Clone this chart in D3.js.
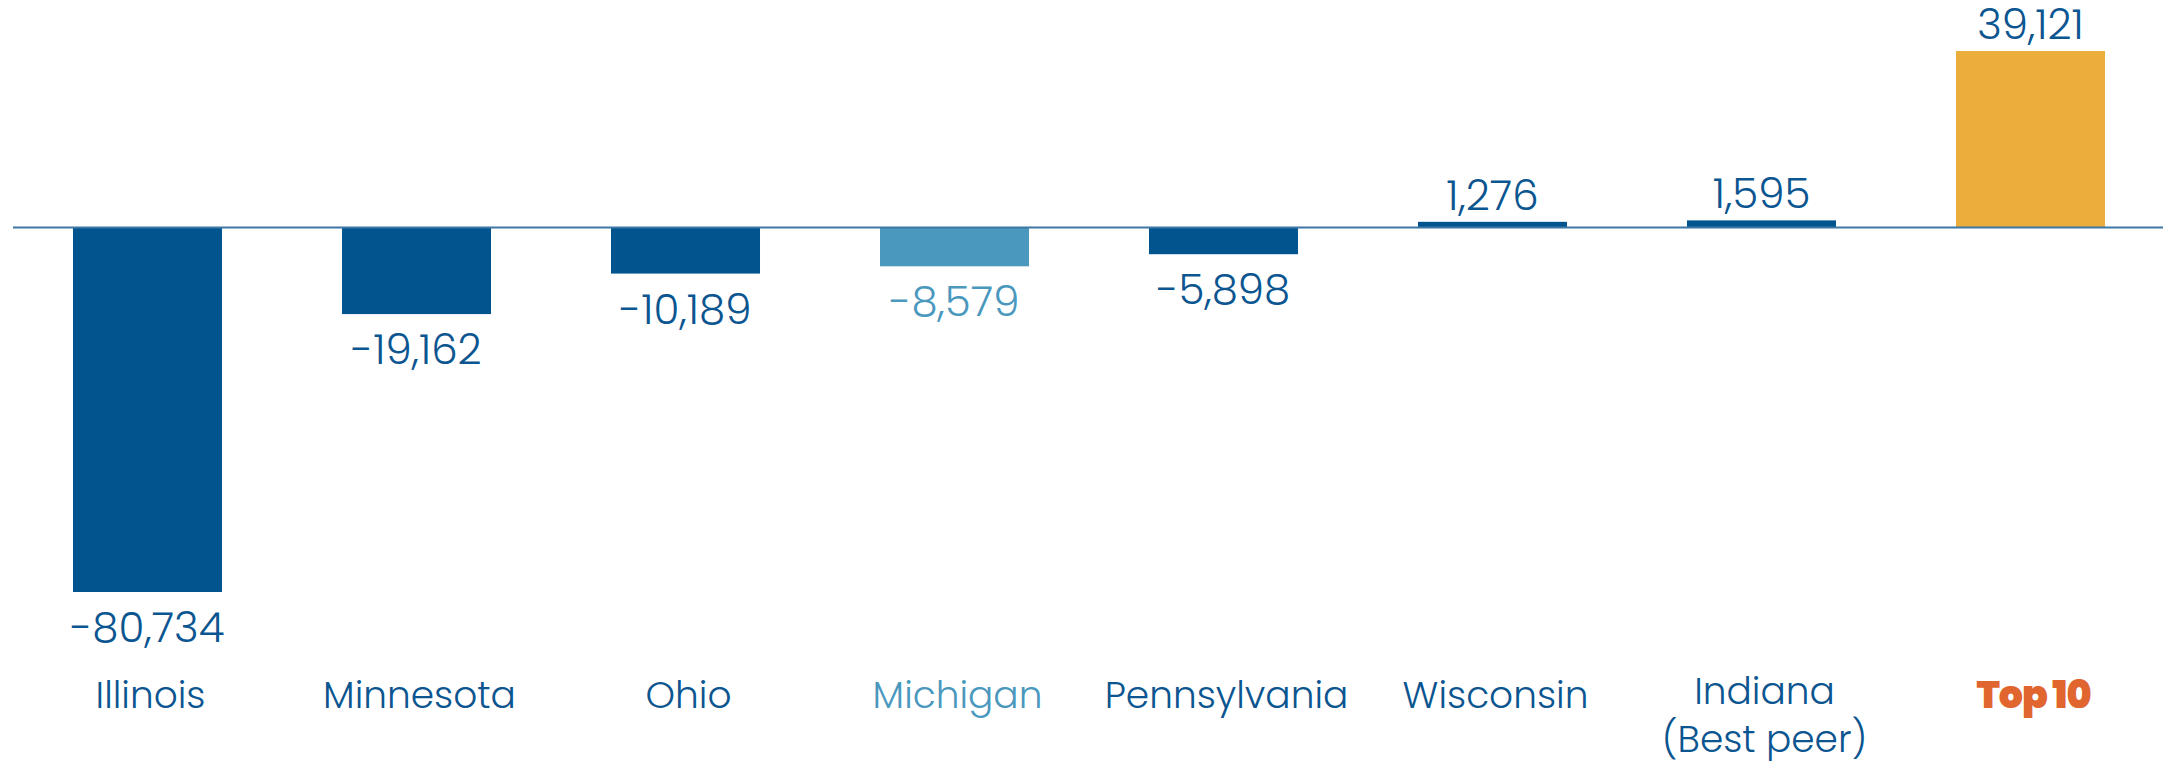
<!DOCTYPE html>
<html>
<head>
<meta charset="utf-8">
<script src="https://cdn.jsdelivr.net/npm/d3@7"></script>
<style>
  html, body { margin: 0; padding: 0; background: #fff; }
  #chart { width: 2163px; height: 761px; }
  text { font-family: "Poppins", "Roboto", sans-serif; }
</style>
</head>
<body>
<div id="chart"><svg></svg></div>
<script>
// values
const categories = ["Illinois", "Minnesota", "Ohio", "Michigan", "Pennsylvania", "Wisconsin", "Indiana\n(Best peer)", "Top 10"];
const values = [-80734, -19162, -10189, -8579, -5898, 1276, 1595, 39121];
const groups = ["peer", "peer", "peer", "home", "peer", "peer", "peer", "target"];

const data = categories.map((c, i) => ({name: c, value: values[i], group: groups[i]}));

/**********************
***** BASIC SETUP *****
**********************/
const width = 2163;
const height = 761;
const margin = {top: 51, left: 13, right: -2, bottom: 169};

const plotWidth = width - margin.left - margin.right;
const plotHeight = height - margin.top - margin.bottom;

const barColor = {peer: "#01548e", home: "#4a98be", target: "#ecae3b"};
const textColor = {peer: "#0b5590", home: "#4a98be", target: "#e0652f"};

const svg = d3.select("#chart").select("svg")
    .attr("width", width)
    .attr("height", height);

/***********************
***** X & Y SCALES *****
***********************/
let xScale = d3.scaleBand()
    .domain(categories)
    .range([0, plotWidth])
    .paddingInner(0.446)
    .paddingOuter(0.223);

let yScale = d3.scaleLinear()
    .domain([d3.min(values), d3.max(values)])
    .range([plotHeight, 0]);

const plot = svg.append("g")
    .attr("transform", `translate(${margin.left}, ${margin.top})`);

/*****************
***** BARS *****
*****************/
plot.selectAll(".bar")
    .data(data)
    .enter()
    .append("rect")
    .attr("class", "bar")
    .attr("x", d => xScale(d.name))
    .attr("y", d => yScale(Math.max(0, d.value)))
    .attr("width", xScale.bandwidth())
    .attr("height", d => Math.abs(yScale(d.value) - yScale(0)))
    .style("fill", d => barColor[d.group]);

// zero line
plot.append("line")
    .attr("x1", 0)
    .attr("x2", width)
    .attr("y1", yScale(0))
    .attr("y2", yScale(0))
    .style("stroke", "#3d77a6")
    .style("stroke-width", 2);

/**************************
***** VALUE LABELS *****
**************************/
const fmt = d3.format(",");

plot.selectAll(".valueLabel")
    .data(data)
    .enter()
    .append("text")
    .attr("class", "valueLabel")
    .attr("x", d => xScale(d.name) + xScale.bandwidth() / 2)
    .attr("y", d => d.value < 0 ? yScale(d.value) + 50 : yScale(d.value) - 12)
    .attr("text-anchor", "middle")
    .style("font-size", "42px")
    .style("font-weight", 300)
    .style("fill", d => d.group === "home" ? textColor.home : textColor.peer)
    .text(d => fmt(d.value).replace("−", "-"));

/*****************************
***** CATEGORY LABELS *****
*****************************/
const catLabels = plot.selectAll(".catLabel")
    .data(data)
    .enter()
    .append("text")
    .attr("class", "catLabel")
    .attr("x", d => xScale(d.name) + xScale.bandwidth() / 2 + 3)
    .attr("y", d => plotHeight + (d.name.includes("\n") ? 112 : 116))
    .attr("text-anchor", "middle")
    .style("font-size", d => d.group === "target" ? "38px" : "37.5px")
    .style("font-weight", d => d.group === "target" ? 900 : 300)
    .style("letter-spacing", d => d.group === "target" ? "-1px" : "0px")
    .style("fill", d => textColor[d.group]);

catLabels.selectAll("tspan")
    .data(d => d.name.split("\n").map((t, i) => ({t, i, x: xScale(d.name) + xScale.bandwidth() / 2 + 3})))
    .enter()
    .append("tspan")
    .attr("x", d => d.x)
    .attr("dy", d => d.i === 0 ? 0 : 48)
    .text(d => d.t);
</script>
</body>
</html>
